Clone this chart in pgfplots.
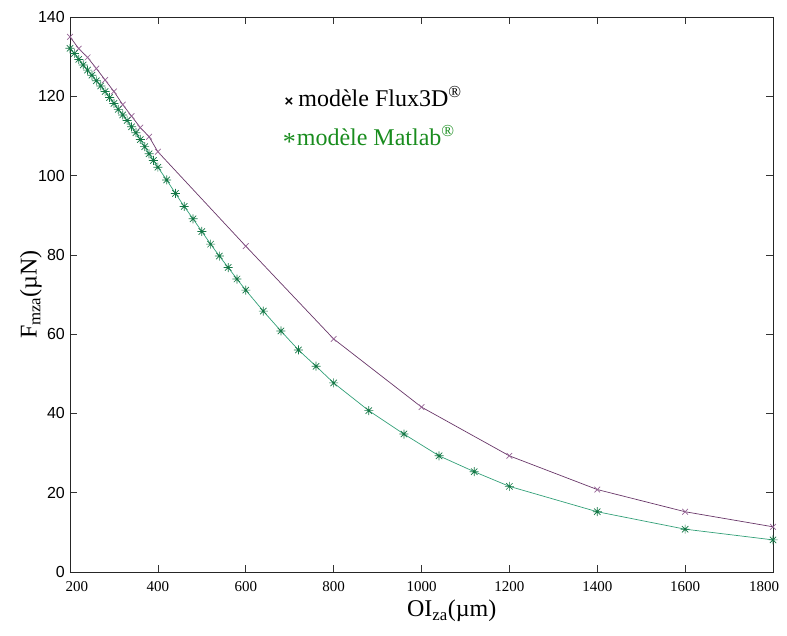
\documentclass[border=0pt]{standalone}
\usepackage{pgfplots}
\pgfplotsset{compat=1.18}
\usepackage{fontspec}
\setmainfont{Liberation Serif}
\setsansfont{Liberation Sans}
\definecolor{fluxline}{RGB}{105,55,105}
\definecolor{fluxmark}{RGB}{150,100,150}
\definecolor{matline}{RGB}{50,160,120}
\definecolor{matmark}{RGB}{20,120,70}
\definecolor{legreen}{RGB}{25,140,30}
\pgfdeclareplotmark{mstar}{%
\pgfpathmoveto{\pgfqpoint{-\pgfplotmarksize}{0pt}}\pgfpathlineto{\pgfqpoint{\pgfplotmarksize}{0pt}}%
\pgfpathmoveto{\pgfqpoint{0pt}{-\pgfplotmarksize}}\pgfpathlineto{\pgfqpoint{0pt}{\pgfplotmarksize}}%
\pgfpathmoveto{\pgfqpoint{-.707\pgfplotmarksize}{-.707\pgfplotmarksize}}\pgfpathlineto{\pgfqpoint{.707\pgfplotmarksize}{.707\pgfplotmarksize}}%
\pgfpathmoveto{\pgfqpoint{-.707\pgfplotmarksize}{.707\pgfplotmarksize}}\pgfpathlineto{\pgfqpoint{.707\pgfplotmarksize}{-.707\pgfplotmarksize}}%
\pgfusepathqstroke}
\begin{document}
\begin{tikzpicture}
\begin{axis}[
  scale only axis, width=703pt, height=555pt,
  xmin=200, xmax=1800, ymin=0, ymax=140,
  xtick={200,400,...,1800}, ytick={0,20,...,140},
  xticklabels={\hspace*{14pt}200,400,600,800,1000,1200,1400,1600,1800\hspace*{18pt}},
  tick align=inside, major tick length=7pt,
  tick style={black!80, line width=0.6pt},
  axis line style={black!85, line width=0.8pt},
  /pgf/number format/assume math mode=true,
  yticklabel style={font=\fontsize{16}{16}\selectfont\sffamily, inner sep=0pt, xshift=-5pt},
  xticklabel style={font=\fontsize{15}{15}\selectfont, inner sep=0pt, yshift=-9pt, anchor=north},
  xlabel={OI\textsubscript{za}(µm)},
  ylabel={F\textsubscript{mza}(µN)},
  xlabel style={font=\fontsize{24}{24}\selectfont, inner sep=0pt, at={(axis description cs:0.543,0)}, anchor=north, yshift=-28pt},
  ylabel style={font=\fontsize{24}{24}\selectfont, inner sep=0pt, at={(axis description cs:-0.04,0.5)}, anchor=south},
  clip=false,
]
\addplot[fluxline, line width=0.7pt, mark=x, mark size=4pt, mark options={fluxmark, line width=0.7pt}] coordinates {
(200,135)(220,132)(240,129.8)(260,127)(280,124.1)(300,121.2)(320,117.9)(340,115)(360,112.1)(380,109.8)(400,106)(600,82.2)(800,58.8)(1000,41.6)(1200,29.3)(1400,20.8)(1600,15.2)(1800,11.4)};
\addplot[matline, line width=0.7pt, mark=mstar, mark size=4.5pt, mark options={matmark, line width=0.7pt}] coordinates {
(200,132.1)(210,130.8)(220,129.3)(230,127.9)(240,126.6)(250,125.3)(260,123.9)(270,122.6)(280,121.2)(290,119.7)(300,118.2)(310,116.7)(320,115.3)(330,113.9)(340,112.3)(350,110.8)(360,109.1)(370,107.3)(380,105.5)(390,103.8)(400,102.1)(420,98.9)(440,95.5)(460,92.2)(480,89.1)(500,85.9)(520,82.7)(540,79.7)(560,76.8)(580,73.9)(600,71.1)(640,65.8)(680,60.8)(720,56.0)(760,51.9)(800,47.7)(880,40.7)(960,34.8)(1040,29.3)(1120,25.3)(1200,21.6)(1400,15.2)(1600,10.8)(1800,8.1)};
\node[anchor=base west, inner sep=0pt, font=\fontsize{24}{24}\selectfont] at (axis cs:688,117.3) {{\fontsize{15}{15}\selectfont\sffamily\bfseries ×}\hspace{5pt}modèle Flux3D\textsuperscript{\textregistered}};
\node[anchor=base west, inner sep=0pt, font=\fontsize{24}{24}\selectfont, text=legreen] at (axis cs:684,107.7) {\raisebox{-5pt}{\fontsize{26}{26}\selectfont *}\hspace{1pt}modèle Matlab\textsuperscript{\textregistered}};
\end{axis}
\pgfresetboundingbox
\path (-70pt,-64pt) rectangle (717pt,572pt);
\end{tikzpicture}
\end{document}
